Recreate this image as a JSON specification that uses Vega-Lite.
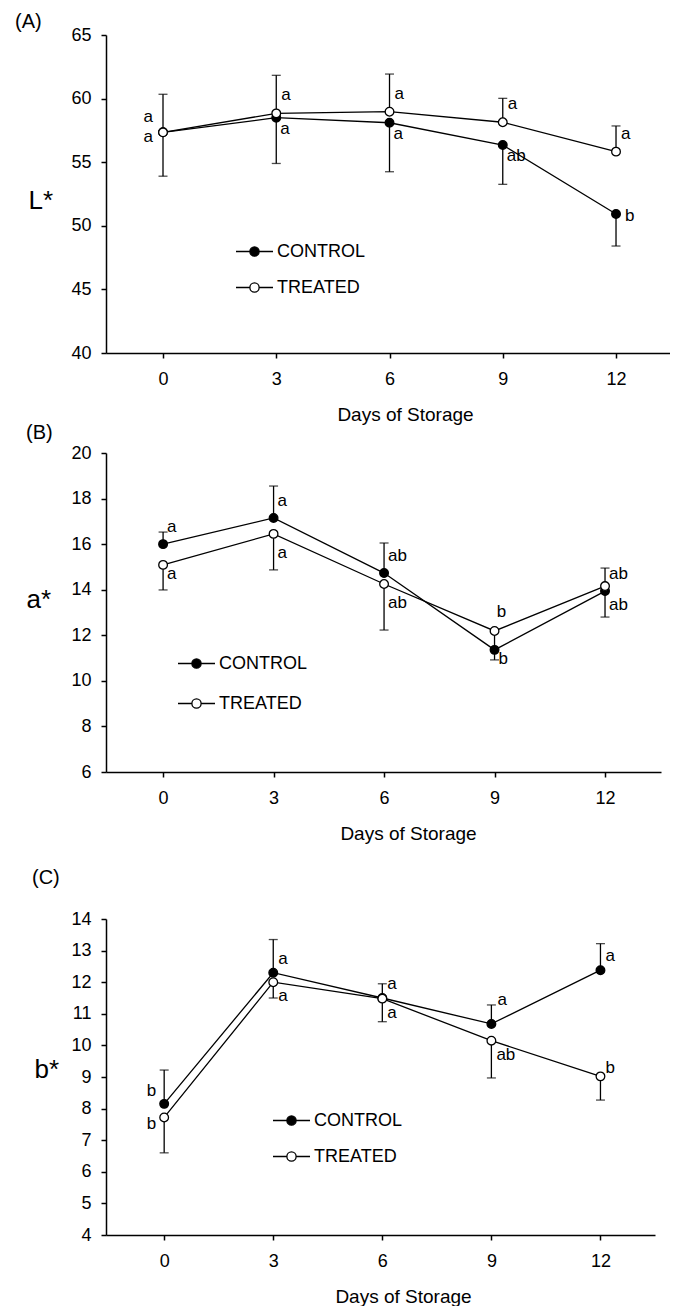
{
  "$schema": "https://vega.github.io/schema/vega-lite/v6.json",
  "background": "white",
  "padding": {"left": 15, "top": 12, "right": 0, "bottom": 0},
  "config": {
    "font": "Liberation Sans",
    "view": {"stroke": null},
    "axis": {"grid": false, "domainColor": "black", "domainWidth": 1.5, "tickColor": "black", "tickWidth": 1.5, "tickSize": 5, "labelColor": "black", "labelFontSize": 18, "labelFont": "Liberation Sans", "titleColor": "black", "titleFont": "Liberation Sans", "titleFontWeight": "normal"},
    "axisX": {"labelPadding": 12, "titlePadding": 17, "titleFontSize": 19},
    "axisY": {"labelPadding": 10, "titleAngle": 0, "titleAlign": "left", "titleBaseline": "alphabetic", "titleFontSize": 26},
    "title": {"fontSize": 20, "fontWeight": "normal", "anchor": "start", "frame": "bounds", "color": "black", "font": "Liberation Sans"},
    "text": {"font": "Liberation Sans", "fontSize": 17, "baseline": "middle", "color": "black"}
  },
  "datasets": {
    "d": [
      {"panel": "A", "day": 0, "group": "CONTROL", "mean": 57.35, "bar": 53.9, "letter": "a", "pos": "ll"},
      {"panel": "A", "day": 3, "group": "CONTROL", "mean": 58.5, "bar": 54.9, "letter": "a", "pos": "lr"},
      {"panel": "A", "day": 6, "group": "CONTROL", "mean": 58.1, "bar": 54.25, "letter": "a", "pos": "lr"},
      {"panel": "A", "day": 9, "group": "CONTROL", "mean": 56.35, "bar": 53.26, "letter": "ab", "pos": "lr"},
      {"panel": "A", "day": 12, "group": "CONTROL", "mean": 50.93, "bar": 48.41, "letter": "b", "pos": "r"},
      {"panel": "A", "day": 0, "group": "TREATED", "mean": 57.35, "bar": 60.34, "letter": "a", "pos": "ul"},
      {"panel": "A", "day": 3, "group": "TREATED", "mean": 58.84, "bar": 61.83, "letter": "a", "pos": "ur"},
      {"panel": "A", "day": 6, "group": "TREATED", "mean": 58.97, "bar": 61.93, "letter": "a", "pos": "ur"},
      {"panel": "A", "day": 9, "group": "TREATED", "mean": 58.14, "bar": 60.02, "letter": "a", "pos": "ur"},
      {"panel": "A", "day": 12, "group": "TREATED", "mean": 55.83, "bar": 57.85, "letter": "a", "pos": "ur"},
      {"panel": "B", "day": 0, "group": "CONTROL", "mean": 16.0, "bar": 16.53, "letter": "a", "pos": "ur"},
      {"panel": "B", "day": 3, "group": "CONTROL", "mean": 17.15, "bar": 18.55, "letter": "a", "pos": "ur"},
      {"panel": "B", "day": 6, "group": "CONTROL", "mean": 14.73, "bar": 16.05, "letter": "ab", "pos": "ur"},
      {"panel": "B", "day": 9, "group": "CONTROL", "mean": 11.36, "bar": null, "letter": "b", "pos": "lr2"},
      {"panel": "B", "day": 12, "group": "CONTROL", "mean": 13.94, "bar": 14.95, "letter": "ab", "pos": "ur"},
      {"panel": "B", "day": 0, "group": "TREATED", "mean": 15.09, "bar": 13.99, "letter": "a", "pos": "lr2"},
      {"panel": "B", "day": 3, "group": "TREATED", "mean": 16.45, "bar": 14.87, "letter": "a", "pos": "lr"},
      {"panel": "B", "day": 6, "group": "TREATED", "mean": 14.25, "bar": 12.23, "letter": "ab", "pos": "lr"},
      {"panel": "B", "day": 9, "group": "TREATED", "mean": 12.19, "bar": 10.92, "letter": "b", "pos": "uc"},
      {"panel": "B", "day": 12, "group": "TREATED", "mean": 14.16, "bar": 12.8, "letter": "ab", "pos": "lr"},
      {"panel": "C", "day": 0, "group": "CONTROL", "mean": 8.15, "bar": 9.22, "letter": "b", "pos": "ul"},
      {"panel": "C", "day": 3, "group": "CONTROL", "mean": 12.3, "bar": 13.35, "letter": "a", "pos": "ur"},
      {"panel": "C", "day": 6, "group": "CONTROL", "mean": 11.5, "bar": 11.95, "letter": "a", "pos": "ur"},
      {"panel": "C", "day": 9, "group": "CONTROL", "mean": 10.68, "bar": 11.28, "letter": "a", "pos": "ur2"},
      {"panel": "C", "day": 12, "group": "CONTROL", "mean": 12.38, "bar": 13.22, "letter": "a", "pos": "ur"},
      {"panel": "C", "day": 0, "group": "TREATED", "mean": 7.72, "bar": 6.6, "letter": "b", "pos": "ll"},
      {"panel": "C", "day": 3, "group": "TREATED", "mean": 12.0, "bar": 11.5, "letter": "a", "pos": "lr"},
      {"panel": "C", "day": 6, "group": "TREATED", "mean": 11.48, "bar": 10.75, "letter": "a", "pos": "lr"},
      {"panel": "C", "day": 9, "group": "TREATED", "mean": 10.15, "bar": 8.97, "letter": "ab", "pos": "lr"},
      {"panel": "C", "day": 12, "group": "TREATED", "mean": 9.02, "bar": 8.27, "letter": "b", "pos": "r"}
    ]
  },
  "data": {"name": "d"},
  "spacing": -1,
  "resolve": {"scale": {"x": "independent", "y": "independent", "fill": "independent"}, "legend": {"fill": "independent"}},
  "vconcat": [
    {
      "width": 564, "height": 318,
      "title": {"text": "(A)", "dx": -13, "offset": -6},
      "transform": [{"filter": "datum.panel === 'A'"}],
      "encoding": {
        "x": {"field": "day", "type": "quantitative", "scale": {"domain": [-1.51, 13.43], "nice": false, "zero": false}, "axis": {"values": [0, 3, 6, 9, 12], "title": "Days of Storage", "titleX": 299}},
        "y": {"field": "mean", "type": "quantitative", "scale": {"domain": [40, 65], "nice": false, "zero": false}, "axis": {"values": [40, 45, 50, 55, 60, 65], "title": "L*", "titleX": -78, "titleY": 173}}
      },
      "layer": [
        {"transform": [{"filter": "isValid(datum.bar)"}], "mark": {"type": "rule", "color": "black", "strokeWidth": 1.3}, "encoding": {"y2": {"field": "bar"}}},
        {"transform": [{"filter": "isValid(datum.bar)"}], "mark": {"type": "tick", "orient": "horizontal", "color": "black", "size": 9, "thickness": 1.3}, "encoding": {"y": {"field": "bar", "type": "quantitative"}}},
        {"mark": {"type": "line", "color": "black", "strokeWidth": 1.3}, "encoding": {"detail": {"field": "group"}}},
        {"mark": {"type": "point", "shape": "circle", "filled": true, "size": 75, "stroke": "black", "strokeWidth": 1.3, "opacity": 1},
         "encoding": {"fill": {"field": "group", "type": "nominal", "scale": {"domain": ["CONTROL", "TREATED"], "range": ["black", "white"]},
           "legend": {"title": null, "orient": "none", "legendX": 129, "legendY": 197, "symbolType": "M-1,0L-0.25,0M0.25,0L1,0M0.25,0A0.25,0.25,0,1,1,-0.25,0A0.25,0.25,0,1,1,0.25,0Z", "symbolSize": 1369, "symbolStrokeColor": "black", "symbolStrokeWidth": 1.3, "labelFontSize": 18, "labelColor": "black", "labelOffset": 3, "rowPadding": 7,
             "encode": {"symbols": {"update": {"stroke": {"value": "black"}, "strokeWidth": {"value": 1.3}, "opacity": {"value": 1}}}}}}}},
        {"transform": [{"filter": "datum.pos === 'ur'"}], "mark": {"type": "text", "align": "left", "dx": 5, "dy": -18}, "encoding": {"text": {"field": "letter"}}},
        {"transform": [{"filter": "datum.pos === 'lr'"}], "mark": {"type": "text", "align": "left", "dx": 4, "dy": 11}, "encoding": {"text": {"field": "letter"}}},
        {"transform": [{"filter": "datum.pos === 'r'"}], "mark": {"type": "text", "align": "left", "dx": 9, "dy": 2}, "encoding": {"text": {"field": "letter"}}},
        {"transform": [{"filter": "datum.pos === 'ul'"}], "mark": {"type": "text", "align": "right", "dx": -10, "dy": -15}, "encoding": {"text": {"field": "letter"}}},
        {"transform": [{"filter": "datum.pos === 'll'"}], "mark": {"type": "text", "align": "right", "dx": -10, "dy": 5}, "encoding": {"text": {"field": "letter"}}}
      ]
    },
    {
      "spacing": 25,
      "resolve": {"scale": {"x": "independent", "y": "independent", "fill": "independent"}, "legend": {"fill": "independent"}},
      "vconcat": [
        {
          "width": 555, "height": 319,
          "title": {"text": "(B)", "offset": 1},
          "transform": [{"filter": "datum.panel === 'B'"}],
          "encoding": {
            "x": {"field": "day", "type": "quantitative", "scale": {"domain": [-1.55, 13.52], "nice": false, "zero": false}, "axis": {"values": [0, 3, 6, 9, 12], "title": "Days of Storage", "titleX": 302}},
            "y": {"field": "mean", "type": "quantitative", "scale": {"domain": [6, 20], "nice": false, "zero": false}, "axis": {"values": [6, 8, 10, 12, 14, 16, 18, 20], "title": "a*", "titleX": -80, "titleY": 154}}
          },
          "layer": [
            {"transform": [{"filter": "isValid(datum.bar)"}], "mark": {"type": "rule", "color": "black", "strokeWidth": 1.3}, "encoding": {"y2": {"field": "bar"}}},
            {"transform": [{"filter": "isValid(datum.bar)"}], "mark": {"type": "tick", "orient": "horizontal", "color": "black", "size": 9, "thickness": 1.3}, "encoding": {"y": {"field": "bar", "type": "quantitative"}}},
            {"mark": {"type": "line", "color": "black", "strokeWidth": 1.3}, "encoding": {"detail": {"field": "group"}}},
            {"mark": {"type": "point", "shape": "circle", "filled": true, "size": 75, "stroke": "black", "strokeWidth": 1.3, "opacity": 1},
             "encoding": {"fill": {"field": "group", "type": "nominal", "scale": {"domain": ["CONTROL", "TREATED"], "range": ["black", "white"]},
               "legend": {"title": null, "orient": "none", "legendX": 71, "legendY": 191, "symbolType": "M-1,0L-0.25,0M0.25,0L1,0M0.25,0A0.25,0.25,0,1,1,-0.25,0A0.25,0.25,0,1,1,0.25,0Z", "symbolSize": 1369, "symbolStrokeColor": "black", "symbolStrokeWidth": 1.3, "labelFontSize": 18, "labelColor": "black", "labelOffset": 3, "rowPadding": 11,
                 "encode": {"symbols": {"update": {"stroke": {"value": "black"}, "strokeWidth": {"value": 1.3}, "opacity": {"value": 1}}}}}}}},
            {"transform": [{"filter": "datum.pos === 'ur'"}], "mark": {"type": "text", "align": "left", "dx": 4, "dy": -17}, "encoding": {"text": {"field": "letter"}}},
            {"transform": [{"filter": "datum.pos === 'lr'"}], "mark": {"type": "text", "align": "left", "dx": 4, "dy": 19}, "encoding": {"text": {"field": "letter"}}},
            {"transform": [{"filter": "datum.pos === 'lr2'"}], "mark": {"type": "text", "align": "left", "dx": 4, "dy": 9}, "encoding": {"text": {"field": "letter"}}},
            {"transform": [{"filter": "datum.pos === 'uc'"}], "mark": {"type": "text", "align": "center", "dx": 7, "dy": -19}, "encoding": {"text": {"field": "letter"}}}
          ]
        },
        {
          "width": 549, "height": 316,
          "title": {"text": "(C)", "dx": -2, "offset": 22},
          "transform": [{"filter": "datum.panel === 'C'"}],
          "encoding": {
            "x": {"field": "day", "type": "quantitative", "scale": {"domain": [-1.6, 13.5], "nice": false, "zero": false}, "axis": {"values": [0, 3, 6, 9, 12], "title": "Days of Storage", "titleX": 297}},
            "y": {"field": "mean", "type": "quantitative", "scale": {"domain": [4, 14], "nice": false, "zero": false}, "axis": {"values": [4, 5, 6, 7, 8, 9, 10, 11, 12, 13, 14], "title": "b*", "titleX": -72, "titleY": 158}}
          },
          "layer": [
            {"transform": [{"filter": "isValid(datum.bar)"}], "mark": {"type": "rule", "color": "black", "strokeWidth": 1.3}, "encoding": {"y2": {"field": "bar"}}},
            {"transform": [{"filter": "isValid(datum.bar)"}], "mark": {"type": "tick", "orient": "horizontal", "color": "black", "size": 9, "thickness": 1.3}, "encoding": {"y": {"field": "bar", "type": "quantitative"}}},
            {"mark": {"type": "line", "color": "black", "strokeWidth": 1.3}, "encoding": {"detail": {"field": "group"}}},
            {"mark": {"type": "point", "shape": "circle", "filled": true, "size": 75, "stroke": "black", "strokeWidth": 1.3, "opacity": 1},
             "encoding": {"fill": {"field": "group", "type": "nominal", "scale": {"domain": ["CONTROL", "TREATED"], "range": ["black", "white"]},
               "legend": {"title": null, "orient": "none", "legendX": 166, "legendY": 182, "symbolType": "M-1,0L-0.25,0M0.25,0L1,0M0.25,0A0.25,0.25,0,1,1,-0.25,0A0.25,0.25,0,1,1,0.25,0Z", "symbolSize": 1369, "symbolStrokeColor": "black", "symbolStrokeWidth": 1.3, "labelFontSize": 18, "labelColor": "black", "labelOffset": 3, "rowPadding": 7,
                 "encode": {"symbols": {"update": {"stroke": {"value": "black"}, "strokeWidth": {"value": 1.3}, "opacity": {"value": 1}}}}}}}},
            {"transform": [{"filter": "datum.pos === 'ur'"}], "mark": {"type": "text", "align": "left", "dx": 5, "dy": -14}, "encoding": {"text": {"field": "letter"}}},
            {"transform": [{"filter": "datum.pos === 'ur2'"}], "mark": {"type": "text", "align": "left", "dx": 6, "dy": -24}, "encoding": {"text": {"field": "letter"}}},
            {"transform": [{"filter": "datum.pos === 'lr'"}], "mark": {"type": "text", "align": "left", "dx": 5, "dy": 14}, "encoding": {"text": {"field": "letter"}}},
            {"transform": [{"filter": "datum.pos === 'r'"}], "mark": {"type": "text", "align": "left", "dx": 5, "dy": -8}, "encoding": {"text": {"field": "letter"}}},
            {"transform": [{"filter": "datum.pos === 'ul'"}], "mark": {"type": "text", "align": "right", "dx": -8, "dy": -13}, "encoding": {"text": {"field": "letter"}}},
            {"transform": [{"filter": "datum.pos === 'll'"}], "mark": {"type": "text", "align": "right", "dx": -8, "dy": 7}, "encoding": {"text": {"field": "letter"}}}
          ]
        }
      ]
    }
  ]
}
